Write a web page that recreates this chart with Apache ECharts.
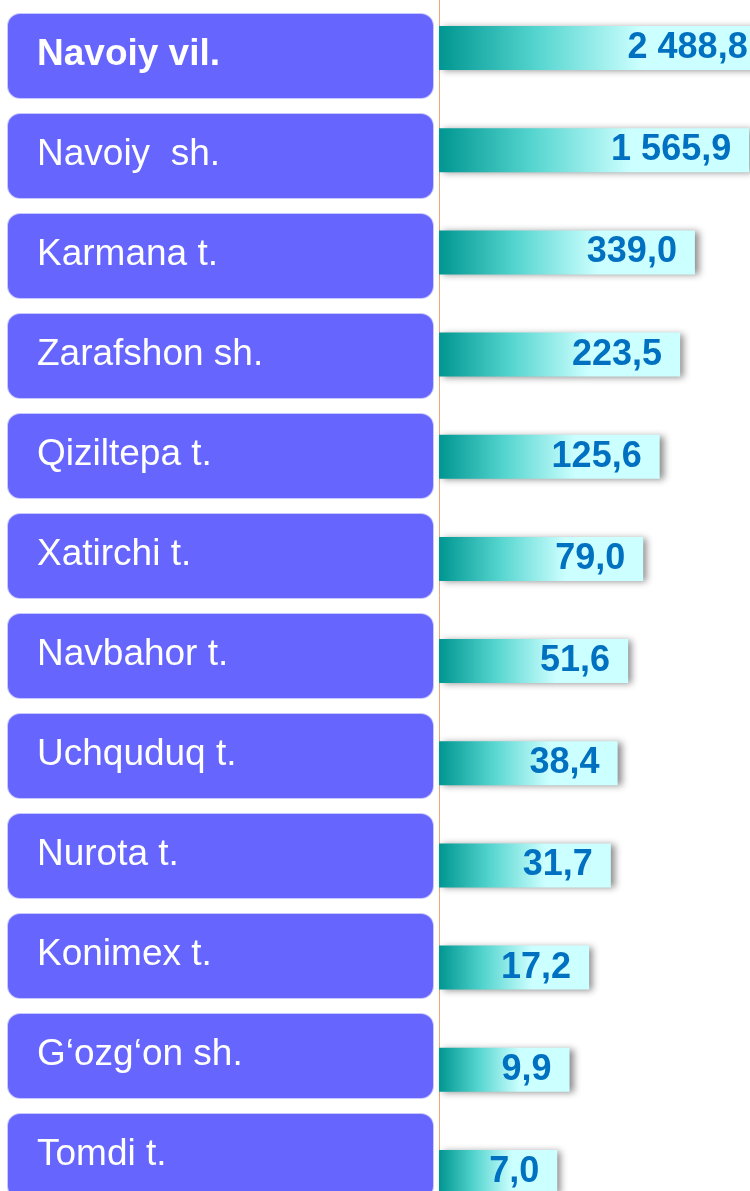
<!DOCTYPE html>
<html>
<head>
<meta charset="utf-8">
<script src="https://cdn.jsdelivr.net/npm/echarts@6/dist/echarts.min.js"></script>
<style>
  html, body { margin: 0; padding: 0; background: #fff; }
  #main { width: 750px; height: 1191px; }
</style>
</head>
<body>
<div id="main"></div>
<script>
  // hududlar
  var regions = ['Navoiy vil.', 'Navoiy  sh.', 'Karmana t.', 'Zarafshon sh.', 'Qiziltepa t.', 'Xatirchi t.',
    'Navbahor t.', 'Uchquduq t.', 'Nurota t.', 'Konimex t.', 'G‘ozg‘on sh.', 'Tomdi t.'];
  var values = [2488.8, 1565.9, 339.0, 223.5, 125.6, 79.0, 51.6, 38.4, 31.7, 17.2, 9.9, 7.0];

  function fmt(v) {
    var s = v.toFixed(1).split('.');
    return s[0].replace(/\B(?=(\d{3})+(?!\d))/g, ' ') + ',' + s[1];
  }

  var myChart = echarts.init(document.getElementById('main'));
  myChart.setOption({
    animation: false,
    textStyle: { fontFamily: 'Liberation Sans, Arial, sans-serif' },
    grid: [
      { left: 8, top: 6, width: 425, bottom: -15, outerBoundsMode: 'none' },
      { left: 439, right: -65, top: -3, bottom: -32, outerBoundsMode: 'none' }
    ],
    xAxis: [
      { gridIndex: 0, type: 'value', show: false },
      { gridIndex: 1, type: 'log', min: 0.25, max: 10000, startValue: 0.25, show: false }
    ],
    yAxis: [
      {
        gridIndex: 0, type: 'category', inverse: true, data: regions,
        axisLine: { show: false }, axisTick: { show: false },
        axisLabel: {
          inside: true, margin: 0, interval: 0, align: 'left',
          formatter: function (v, i) { return i === 0 ? '{b|' + v + '}' : '{n|' + v + '}'; },
          backgroundColor: '#6666FF', borderColor: '#C9C9FF', borderWidth: 1, borderRadius: 12,
          width: 396, padding: [0, 0, 0, 29], lineHeight: 84, height: 84,
          rich: {
            b: { color: '#fff', fontSize: 37, fontWeight: 'bold', fontFamily: 'Liberation Sans, Arial', lineHeight: 82 },
            n: { color: '#fff', fontSize: 37, fontFamily: 'Liberation Sans, Arial', lineHeight: 82 }
          }
        }
      },
      {
        gridIndex: 1, type: 'category', inverse: true, data: regions,
        axisLine: { show: true, lineStyle: { color: '#F0A878', width: 1 } },
        axisTick: { show: false }, axisLabel: { show: false }
      }
    ],
    series: [{
      type: 'bar',
      xAxisIndex: 1,
      yAxisIndex: 1,
      data: values,
      barWidth: 44,
      itemStyle: {
        color: new echarts.graphic.LinearGradient(0, 0, 1, 0, [
          { offset: 0, color: '#009691' },
          { offset: 0.3, color: '#55D5CF' },
          { offset: 0.62, color: '#CCFFFF' },
          { offset: 1, color: '#CCFFFF' }
        ]),
        shadowColor: 'rgba(0,0,0,0.45)',
        shadowBlur: 7,
        shadowOffsetX: 4,
        shadowOffsetY: 1
      },
      label: {
        show: true,
        position: 'insideRight',
        distance: 18,
        color: '#0070C0',
        fontSize: 36,
        fontWeight: 'bold',
        fontFamily: 'Liberation Sans, Arial',
        formatter: function (p) { return fmt(p.value); }
      }
    }]
  });
</script>
</body>
</html>
